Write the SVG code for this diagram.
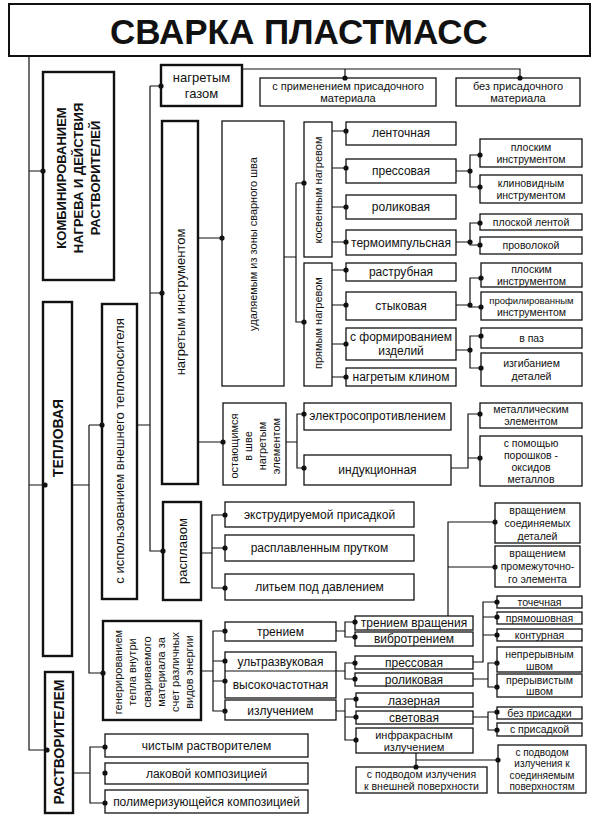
<svg xmlns="http://www.w3.org/2000/svg" width="600" height="823" viewBox="0 0 600 823">
<style>
rect{fill:#fff;stroke:#111;stroke-width:1.3}
rect.k{stroke-width:2.4}
.c path{fill:none;stroke:#111;stroke-width:1.2}
circle{fill:#111}
text{font-family:"Liberation Sans",Arial,sans-serif;fill:#111;text-anchor:middle}
.t13{font-size:13px}
.t12{font-size:12px}
.t11{font-size:11px}
.t10{font-size:10.5px}
.bd{font-weight:bold}
</style>
<rect width="600" height="823" style="fill:#fff;stroke:none"/>
<g class="c" id="connectors">
<path d="M29,56 V750 H47 M29,171 H43 M29,485 H43"/>
<path d="M72,485 H89 M89,425 V673 H103 M89,425 H102"/>
<path d="M137,425 H150 M150,86 V551 H163 M150,86 H161 M150,293 H162"/>
<path d="M242,69 H520 V78 M345,69 V78"/>
<path d="M198,238 H222 M198,442 H223"/>
<path d="M284,257 H296 M296,183 V322 H304 M296,183 H304"/>
<path d="M332,131 H346 M332,168 H346 M332,207 H346 M332,242 H346"/>
<path d="M456,171 H470 M480,155 H470 V187 H480 M456,242 H470 M480,223 H470 V245 H480"/>
<path d="M332,270 H346 M332,305 H346 M332,344 H346 M332,377 H346"/>
<path d="M456,305 H470 M481,278 H470 V307 H481 M456,350 H470 M481,336 H470 V368 H481"/>
<path d="M286,442 H297 M304,414 H297 V468 H304"/>
<path d="M451,468 H468 V414 H480 M468,458 H480"/>
<path d="M201,553 H212 M225,515 H212 V588 H225 M212,548 H225"/>
<path d="M201,671 H213 M225,631 H213 V711 H225 M213,661 H225 M213,681 H225"/>
<path d="M336,671 H345 M355,663 H345 V679 H355"/>
<path d="M336,631 H345 M355,622 H345 V637 H355"/>
<path d="M448,616 V522 H495 M448,567 H495"/>
<path d="M473,662 H483 V602 H497 M483,617 H497 M483,635 H497"/>
<path d="M473,679 H488 M497,663 H488 V687 H497"/>
<path d="M336,711 H345 M356,699 H345 V740 H356 M345,717 H356"/>
<path d="M473,717 H488 M497,712 H488 V730 H497"/>
<path d="M416,753 V767 M416,760 H498"/>
<path d="M73,773 H90 M105,747 H90 V803 H105"/>
</g>
<g id="title"><rect x="9" y="4" width="581" height="52" style="stroke-width:2"/><text x="299" y="44" class="bd" style="font-size:35px">СВАРКА ПЛАСТМАСС</text></g>
<g id="n-komb"><rect class="k" x="43" y="72" width="71" height="208"/><text class="t13 bd" transform="translate(78,178) rotate(-90)"><tspan x="0" y="-12.5">КОМБИНИРОВАНИЕМ</tspan><tspan x="0" y="4.5">НАГРЕВА И ДЕЙСТВИЯ</tspan><tspan x="0" y="21.5">РАСТВОРИТЕЛЕЙ</tspan></text></g>
<g id="n-tepl"><rect class="k" x="43" y="302" width="29" height="354"/><text class="bd" style="font-size:14px" transform="translate(57.5,438) rotate(-90)" y="5">ТЕПЛОВАЯ</text></g>
<g id="n-rastv"><rect class="k" x="45" y="672" width="28" height="141"/><text class="bd" style="font-size:14px" transform="translate(59,742) rotate(-90)" y="5">РАСТВОРИТЕЛЕМ</text></g>
<g id="n-vnesh"><rect class="k" x="102" y="304" width="35" height="295"/><text class="t13" transform="translate(119.5,451) rotate(-90)" y="4.5">с использованием внешнего теплоносителя</text></g>
<g id="n-gaz"><rect class="k" x="161" y="65" width="81" height="41"/><text class="t13" x="201.5" y="82">нагретым</text><text class="t13" x="201.5" y="98">газом</text></g>
<g id="n-sprim"><rect x="260" y="78" width="176" height="28"/><text class="t11" x="348" y="90">с применением присадочного</text><text class="t11" x="348" y="102">материала</text></g>
<g id="n-bezpr"><rect x="456" y="78" width="124" height="28"/><text class="t11" x="518" y="90">без присадочного</text><text class="t11" x="518" y="102">материала</text></g>
<g id="n-instr"><rect class="k" x="162" y="121" width="36" height="363"/><text class="t13" transform="translate(180,302) rotate(-90)" y="4.5">нагретым инструментом</text></g>
<g id="n-udal"><rect x="222" y="121" width="62" height="265"/><text class="t11" transform="translate(253,244) rotate(-90)" y="4">удаляемым из зоны сварного шва</text></g>
<g id="n-kosv"><rect x="304" y="122" width="28" height="135"/><text class="t11" transform="translate(318,190) rotate(-90)" y="4">косвенным нагревом</text></g>
<g id="n-pryam"><rect x="304" y="263" width="28" height="123"/><text class="t11" transform="translate(318,323) rotate(-90)" y="4">прямым нагревом</text></g>
<g id="n-lent"><rect x="346" y="122" width="110" height="23"/><text class="t12" x="401" y="137">ленточная</text></g>
<g id="n-press1"><rect x="346" y="159" width="110" height="24"/><text class="t12" x="401" y="175">прессовая</text></g>
<g id="n-rolik1"><rect x="346" y="195" width="110" height="24"/><text class="t12" x="401" y="211">роликовая</text></g>
<g id="n-termo"><rect x="346" y="230" width="110" height="25"/><text class="t12" x="401" y="247">термоимпульсная</text></g>
<g id="n-plosk1"><rect x="480" y="139" width="102" height="28"/><text class="t10" x="531" y="151">плоским</text><text class="t10" x="531" y="163">инструментом</text></g>
<g id="n-klin"><rect x="480" y="175" width="102" height="28"/><text class="t10" x="531" y="187">клиновидным</text><text class="t10" x="531" y="199">инструментом</text></g>
<g id="n-plent"><rect x="480" y="214" width="102" height="16"/><text class="t10" x="531" y="226">плоской лентой</text></g>
<g id="n-provol"><rect x="480" y="237" width="102" height="17"/><text class="t10" x="531" y="249">проволокой</text></g>
<g id="n-rastr"><rect x="346" y="263" width="110" height="18"/><text class="t12" x="401" y="276">раструбная</text></g>
<g id="n-styk"><rect x="346" y="292" width="110" height="28"/><text class="t12" x="401" y="310">стыковая</text></g>
<g id="n-sform"><rect x="346" y="328" width="110" height="32"/><text class="t12" x="401" y="341">с формированием</text><text class="t12" x="401" y="355">изделий</text></g>
<g id="n-nklin"><rect x="346" y="368" width="110" height="18"/><text class="t12" x="401" y="381">нагретым клином</text></g>
<g id="n-plosk2"><rect x="481" y="263" width="101" height="24"/><text class="t10" x="531.5" y="273">плоским</text><text class="t10" x="531.5" y="285">инструментом</text></g>
<g id="n-prof"><rect x="481" y="292" width="101" height="28"/><text x="531.5" y="304" style="font-size:9.5px">профилированным</text><text class="t10" x="531.5" y="316">инструментом</text></g>
<g id="n-vpaz"><rect x="481" y="328" width="101" height="20"/><text class="t10" x="531.5" y="342">в паз</text></g>
<g id="n-izgib"><rect x="481" y="353" width="101" height="33"/><text class="t10" x="531.5" y="367">изгибанием</text><text class="t10" x="531.5" y="380">деталей</text></g>
<g id="n-ostay"><rect x="223" y="403" width="63" height="82"/><text class="t11" transform="translate(255,446) rotate(-90)"><tspan x="0" y="-17">остающимся</tspan><tspan x="0" y="-3">в шве</tspan><tspan x="0" y="11">нагретым</tspan><tspan x="0" y="25">элементом</tspan></text></g>
<g id="n-elektr"><rect x="304" y="403" width="147" height="27"/><text class="t12" x="377.5" y="420">электросопротивлением</text></g>
<g id="n-indukc"><rect x="304" y="455" width="147" height="30"/><text class="t12" x="377.5" y="474">индукционная</text></g>
<g id="n-metel"><rect x="480" y="403" width="102" height="25"/><text class="t10" x="531" y="413">металлическим</text><text class="t10" x="531" y="425">элементом</text></g>
<g id="n-poroshk"><rect x="480" y="436" width="102" height="50"/><text class="t10" x="531" y="447">с помощью</text><text class="t10" x="531" y="459">порошков -</text><text class="t10" x="531" y="471">оксидов</text><text class="t10" x="531" y="483">металлов</text></g>
<g id="n-rasplav"><rect class="k" x="163" y="502" width="38" height="98"/><text class="t13" transform="translate(182,551) rotate(-90)" y="4.5">расплавом</text></g>
<g id="n-ekstr"><rect x="225" y="502" width="189" height="25"/><text class="t12" x="319.5" y="519">экструдируемой присадкой</text></g>
<g id="n-prut"><rect x="225" y="535" width="189" height="26"/><text class="t12" x="319.5" y="552">расплавленным прутком</text></g>
<g id="n-lit"><rect x="225" y="574" width="189" height="26"/><text class="t12" x="319.5" y="591">литьем под давлением</text></g>
<g id="n-gener"><rect class="k" x="103" y="621" width="98" height="99"/><text class="t11" transform="translate(152,672) rotate(-90)"><tspan x="0" y="-30">генерированием</tspan><tspan x="0" y="-16">тепла внутри</tspan><tspan x="0" y="-1.5">свариваемого</tspan><tspan x="0" y="12.5">материала за</tspan><tspan x="0" y="26.5">счет различных</tspan><tspan x="0" y="40.5">видов энергии</tspan></text></g>
<g id="n-trenie"><rect x="225" y="622" width="111" height="19"/><text class="t12" x="280.5" y="636">трением</text></g>
<g id="n-ultra"><rect x="225" y="652" width="111" height="46"/><path d="M225,671 H336" style="stroke:#111;stroke-width:1.2"/><text class="t12" x="280.5" y="666">ультразвуковая</text><text class="t12" x="280.5" y="689">высокочастотная</text></g>
<g id="n-izluch"><rect x="225" y="700" width="111" height="20"/><text class="t12" x="280.5" y="715">излучением</text></g>
<g id="n-trvr"><rect x="355" y="616" width="118" height="14"/><text class="t12" x="414" y="627">трением вращения</text></g>
<g id="n-vibro"><rect x="355" y="632" width="118" height="14"/><text class="t12" x="414" y="643">вибротрением</text></g>
<g id="n-vrsoed"><rect x="495" y="503" width="85" height="40"/><text class="t10" x="537.5" y="514">вращением</text><text class="t10" x="537.5" y="527">соединяемых</text><text class="t10" x="537.5" y="540">деталей</text></g>
<g id="n-vrprom"><rect x="495" y="546" width="85" height="41"/><text class="t10" x="537.5" y="557">вращением</text><text class="t10" x="537.5" y="570">промежуточно-</text><text class="t10" x="537.5" y="583">го элемента</text></g>
<g id="n-toch"><rect x="497" y="596" width="85" height="12"/><text class="t10" x="539.5" y="606">точечная</text></g>
<g id="n-pryamsh"><rect x="497" y="612" width="85" height="12"/><text class="t10" x="539.5" y="622">прямошовная</text></g>
<g id="n-kontur"><rect x="497" y="629" width="85" height="12"/><text class="t10" x="539.5" y="639">контурная</text></g>
<g id="n-press2"><rect x="355" y="656" width="118" height="13"/><text class="t12" x="414" y="667">прессовая</text></g>
<g id="n-rolik2"><rect x="355" y="673" width="118" height="13"/><text class="t12" x="414" y="684">роликовая</text></g>
<g id="n-nepr"><rect x="497" y="647" width="85" height="25"/><text class="t10" x="539.5" y="658">непрерывным</text><text class="t10" x="539.5" y="670">швом</text></g>
<g id="n-prer"><rect x="497" y="674" width="85" height="23"/><text class="t10" x="539.5" y="684">прерывистым</text><text class="t10" x="539.5" y="695">швом</text></g>
<g id="n-lazer"><rect x="356" y="693" width="117" height="14"/><text class="t12" x="414" y="705">лазерная</text></g>
<g id="n-svet"><rect x="356" y="711" width="117" height="13"/><text class="t12" x="414" y="722">световая</text></g>
<g id="n-infra"><rect x="356" y="728" width="117" height="25"/><text class="t11" x="414" y="738.5">инфракрасным</text><text class="t11" x="414" y="750.5">излучением</text></g>
<g id="n-bezpris"><rect x="497" y="707" width="85" height="12"/><text class="t10" x="539.5" y="717">без присадки</text></g>
<g id="n-spris"><rect x="497" y="723" width="85" height="13"/><text class="t10" x="539.5" y="733">с присадкой</text></g>
<g id="n-vnesh2"><rect x="356" y="767" width="131" height="26"/><text class="t10" x="421.5" y="778">с подводом излучения</text><text class="t10" x="421.5" y="790">к внешней поверхности</text></g>
<g id="n-soed"><rect x="498" y="745" width="88" height="48"/><text x="542" y="755.5" style="font-size:10px">с подводом</text><text x="542" y="767" style="font-size:10px">излучения к</text><text x="542" y="778.5" style="font-size:10px">соединяемым</text><text x="542" y="790" style="font-size:10px">поверхностям</text></g>
<g id="n-chist"><rect x="105" y="734" width="203" height="23"/><text class="t12" x="206.5" y="750">чистым растворителем</text></g>
<g id="n-lak"><rect x="105" y="763" width="203" height="21"/><text class="t12" x="206.5" y="778">лаковой композицией</text></g>
<g id="n-polim"><rect x="105" y="790" width="203" height="23"/><text class="t12" x="206.5" y="806">полимеризующейся композицией</text></g>
<g id="dots">
<circle cx="43" cy="171" r="2.6"/><circle cx="45" cy="485" r="2.6"/><circle cx="47" cy="750" r="2.6"/><circle cx="102" cy="425" r="2.6"/><circle cx="103" cy="673" r="2.6"/><circle cx="161" cy="86" r="2.6"/><circle cx="162" cy="293" r="2.6"/><circle cx="163" cy="551" r="2.6"/><circle cx="345" cy="78" r="2.6"/><circle cx="520" cy="78" r="2.6"/><circle cx="222" cy="238" r="2.6"/><circle cx="223" cy="442" r="2.6"/><circle cx="304" cy="183" r="2.6"/><circle cx="304" cy="322" r="2.6"/>
<circle cx="346" cy="131" r="2.6"/><circle cx="346" cy="168" r="2.6"/><circle cx="346" cy="207" r="2.6"/><circle cx="346" cy="242" r="2.6"/><circle cx="470" cy="171" r="2.6"/><circle cx="480" cy="155" r="2.6"/><circle cx="480" cy="187" r="2.6"/><circle cx="470" cy="242" r="2.6"/><circle cx="480" cy="223" r="2.6"/><circle cx="480" cy="245" r="2.6"/>
<circle cx="346" cy="270" r="2.6"/><circle cx="346" cy="305" r="2.6"/><circle cx="346" cy="344" r="2.6"/><circle cx="346" cy="377" r="2.6"/><circle cx="470" cy="305" r="2.6"/><circle cx="481" cy="278" r="2.6"/><circle cx="481" cy="307" r="2.6"/><circle cx="470" cy="350" r="2.6"/><circle cx="481" cy="336" r="2.6"/><circle cx="481" cy="368" r="2.6"/>
<circle cx="304" cy="414" r="2.6"/><circle cx="304" cy="468" r="2.6"/><circle cx="480" cy="414" r="2.6"/><circle cx="480" cy="458" r="2.6"/>
<circle cx="225" cy="515" r="2.6"/><circle cx="225" cy="548" r="2.6"/><circle cx="225" cy="588" r="2.6"/><circle cx="225" cy="631" r="2.6"/><circle cx="225" cy="661" r="2.6"/><circle cx="225" cy="681" r="2.6"/><circle cx="225" cy="711" r="2.6"/>
<circle cx="355" cy="622" r="2.6"/><circle cx="355" cy="637" r="2.6"/><circle cx="355" cy="663" r="2.6"/><circle cx="355" cy="679" r="2.6"/><circle cx="495" cy="522" r="2.6"/><circle cx="495" cy="567" r="2.6"/><circle cx="497" cy="602" r="2.6"/><circle cx="497" cy="617" r="2.6"/><circle cx="497" cy="635" r="2.6"/><circle cx="497" cy="663" r="2.6"/><circle cx="497" cy="687" r="2.6"/>
<circle cx="356" cy="699" r="2.6"/><circle cx="356" cy="717" r="2.6"/><circle cx="356" cy="740" r="2.6"/><circle cx="497" cy="712" r="2.6"/><circle cx="497" cy="730" r="2.6"/><circle cx="416" cy="767" r="2.6"/><circle cx="498" cy="760" r="2.6"/>
<circle cx="105" cy="747" r="2.6"/><circle cx="105" cy="773" r="2.6"/><circle cx="105" cy="803" r="2.6"/>
</g>
</svg>
